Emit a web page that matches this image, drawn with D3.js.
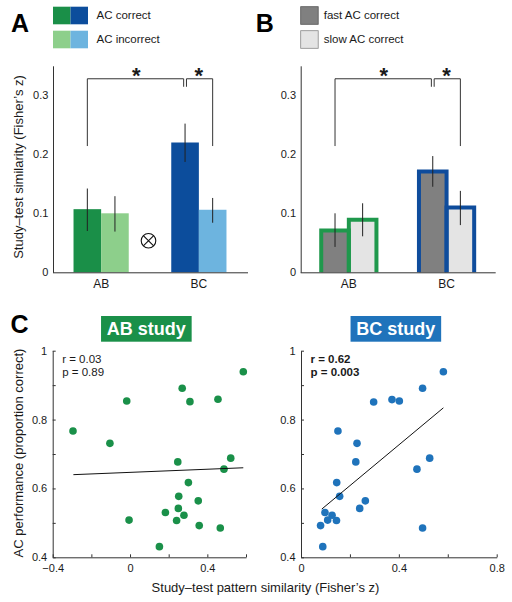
<!DOCTYPE html>
<html><head><meta charset="utf-8">
<script src="https://cdn.jsdelivr.net/npm/d3@7"></script>
<style>
body{margin:0;background:#fff}
svg{display:block}
text{font-family:"Liberation Sans",Arial,Helvetica,sans-serif;fill:#1a1a1a}
</style>
</head><body>
<svg id="c" width="512" height="602"></svg>
<script>
// ---------------- data ----------------
const categories = ["AB", "BC"];
const barTicks = [0, 0.1, 0.2, 0.3];

const legendA = ["AC correct", "AC incorrect"];
const acCorrect = [0.107, 0.220];
const acIncorrect = [0.100, 0.106];
const acCorrectErr = [[0.070, 0.142], [0.187, 0.252]];
const acIncorrectErr = [[0.069, 0.129], [0.084, 0.126]];

const legendB = ["fast AC correct", "slow AC correct"];
const fastCorrect = [0.071, 0.171];
const slowCorrect = [0.089, 0.110];
const fastCorrectErr = [[0.043, 0.100], [0.145, 0.197]];
const slowCorrectErr = [[0.061, 0.117], [0.080, 0.138]];

const abSimilarity = [0.586, 0.270, -0.017, 0.310, 0.455, -0.295, -0.104, 0.521, 0.247, 0.486, 0.302, 0.252, 0.353, 0.250, 0.183, 0.279, -0.005, 0.241, 0.358, 0.467, 0.152];
const abPerformance = [0.939, 0.891, 0.854, 0.852, 0.859, 0.767, 0.731, 0.688, 0.677, 0.656, 0.617, 0.577, 0.564, 0.542, 0.530, 0.522, 0.508, 0.507, 0.492, 0.485, 0.431];
const bcSimilarity = [0.582, 0.497, 0.297, 0.372, 0.402, 0.151, 0.229, 0.526, 0.224, 0.474, 0.146, 0.158, 0.263, 0.240, 0.098, 0.127, 0.109, 0.145, 0.080, 0.497, 0.089];
const bcPerformance = [0.939, 0.891, 0.851, 0.858, 0.854, 0.767, 0.731, 0.688, 0.677, 0.656, 0.617, 0.577, 0.564, 0.542, 0.530, 0.522, 0.508, 0.507, 0.492, 0.485, 0.431];

const abFitX = [-0.293, 0.586], abFitY = [0.640, 0.660];
const bcFitX = [0.085, 0.582], bcFitY = [0.540, 0.834];
const abStats = ["r = 0.03", "p = 0.89"];
const bcStats = ["r = 0.62", "p = 0.003"];

const perfTicks = [0.4, 0.5, 0.6, 0.7, 0.8, 0.9, 1];
const perfLabels = [0.4, 0.6, 0.8, 1];
const abSimTicks = [-0.4, -0.2, 0, 0.2, 0.4, 0.6];
const abSimLabels = [-0.4, 0, 0.4];
const bcSimTicks = [0, 0.2, 0.4, 0.6, 0.8];
const bcSimLabels = [0, 0.4, 0.8];

// ---------------- styles ----------------
const C = {
  greenDark: "#1a8f48", greenLight: "#8dcf8b",
  blueDark: "#0c4d9c", blueLight: "#6db4df",
  gray: "#808080", grayLight: "#e4e4e4",
  outlineGreen: "#1f984c", outlineBlue: "#0e4c9c",
  dotGreen: "#1a9049", dotBlue: "#1f73bb",
  axis: "#333"
};
const FONT = '"Liberation Sans",Arial,Helvetica,sans-serif';
const svg = d3.select("#c");
const fmtNum = d => String(+d.toFixed(1)).replace("-", "\u2212");
const has = (arr, d) => arr.some(v => Math.abs(v - d) < 1e-9);

function styleAxis(g, size) {
  g.attr("font-family", FONT).attr("font-size", size);
  g.selectAll("path.domain").attr("stroke", C.axis);
  g.selectAll(".tick line").attr("stroke", C.axis);
  g.selectAll(".tick text").attr("fill", "#1a1a1a");
}

// ---------------- bar panels ----------------
function barPanel(opt) {
  const ax = opt.ax;
  const g = svg.append("g");
  const y = d3.scaleLinear().domain([0, 0.35]).range([272.3, 65.8]);
  const x0 = d3.scaleBand().domain(categories).range([ax, ax + 194]).paddingInner(0.435).paddingOuter(0.21);
  const x1 = d3.scaleBand().domain(d3.range(opt.values.length)).range([0, x0.bandwidth()]);
  const cx = (c, si) => x0(c) + x1(si) + x1.bandwidth() / 2;

  // bars
  opt.values.forEach((vals, si) => {
    g.append("g").selectAll("rect").data(categories).join("rect")
      .attr("x", c => x0(c) + x1(si)).attr("width", x1.bandwidth())
      .attr("y", (c, i) => y(vals[i])).attr("height", (c, i) => y(0) - y(vals[i]))
      .attr("fill", (c, i) => opt.fills[si][i]);
  });
  if (opt.outline) {
    opt.values.forEach((vals, si) => {
      g.append("g").selectAll("path").data(categories).join("path")
        .attr("d", (c, i) => {
          const xl = x0(c) + x1(si), xr = xl + x1.bandwidth();
          return `M${xl},${y(0)}V${y(vals[i])}H${xr}V${y(0)}`;
        })
        .attr("fill", "none").attr("stroke", (c, i) => opt.outline[i])
        .attr("stroke-width", 4).attr("stroke-linejoin", "miter");
    });
  }
  // error bars
  opt.errors.forEach((errs, si) => {
    g.append("g").selectAll("line").data(categories).join("line")
      .attr("x1", c => cx(c, si)).attr("x2", c => cx(c, si))
      .attr("y1", (c, i) => y(errs[i][0])).attr("y2", (c, i) => y(errs[i][1]))
      .attr("stroke", "#222").attr("stroke-width", 1);
  });

  // axes
  const ya = g.append("g").attr("transform", `translate(${ax},0)`)
    .call(d3.axisLeft(y).tickValues(barTicks).tickSize(0).tickPadding(4.7)
      .tickFormat(d => d === 0 ? "0" : d3.format(".1f")(d)));
  styleAxis(ya, 11);
  const xa = g.append("g").attr("transform", `translate(0,${y(0)})`)
    .call(d3.axisBottom(x0).tickSize(0).tickPadding(7));
  styleAxis(xa, 12);
  xa.select("path.domain").attr("d", `M${ax},0.5H${ax + 195}`);

  // significance brackets
  const top = y(0.328), bot = y(0.214), midBot = top + 8;
  const L = cx("AB", 0), M = cx("BC", 0), R = cx("BC", 1);
  const br = g.append("g").attr("fill", "none").attr("stroke", C.axis).attr("stroke-width", 1);
  br.append("path").attr("d", `M${L},${bot}V${top}H${M - 1.4}V${midBot}`);
  br.append("path").attr("d", `M${M + 1.4},${midBot}V${top}H${R}V${bot}`);
  g.selectAll("text.star").data([(L + M) / 2, (M + R) / 2]).join("text")
    .attr("class", "star").attr("x", d => d).attr("y", top + 3.8)
    .attr("text-anchor", "middle").attr("font-size", 22).attr("font-weight", "bold").text("*");

  // legend
  const lg = g.append("g");
  opt.legend.forEach((lab, i) => {
    const yy = 6.7 + i * 24;
    opt.legendFills[i].forEach((f, j) => {
      lg.append("rect").attr("x", ax + j * 17.5).attr("y", yy)
        .attr("width", 17.5).attr("height", 17.6).attr("fill", f)
        .attr("stroke", opt.legendStroke ? opt.legendStroke[i] : "none").attr("stroke-width", 0.8);
    });
    lg.append("text").attr("x", ax + opt.legendFills[i].length * 17.5 + opt.legendGap)
      .attr("y", yy + 12.6).attr("font-size", 11.5).text(lab);
  });

  return { g, x0, y };
}

const A = barPanel({
  ax: 53,
  values: [acCorrect, acIncorrect],
  errors: [acCorrectErr, acIncorrectErr],
  fills: [[C.greenDark, C.blueDark], [C.greenLight, C.blueLight]],
  legend: legendA,
  legendFills: [[C.greenDark, C.blueDark], [C.greenLight, C.blueLight]],
  legendGap: 8.5
});
// interaction symbol (⊗) between groups
{
  const cxo = (A.x0("AB") + A.x0.bandwidth() + A.x0("BC")) / 2 - 1.5, cyo = A.y(0.0535), r = 7.3, k = r * 0.7071;
  const og = A.g.append("g").attr("fill", "none").attr("stroke", "#111").attr("stroke-width", 1.1);
  og.append("circle").attr("cx", cxo).attr("cy", cyo).attr("r", r);
  og.append("path").attr("d", `M${cxo - k},${cyo - k}L${cxo + k},${cyo + k}M${cxo + k},${cyo - k}L${cxo - k},${cyo + k}`);
}

barPanel({
  ax: 300.7,
  values: [fastCorrect, slowCorrect],
  errors: [fastCorrectErr, slowCorrectErr],
  fills: [[C.gray, C.gray], [C.grayLight, C.grayLight]],
  outline: [C.outlineGreen, C.outlineBlue],
  legend: legendB,
  legendFills: [[C.gray], [C.grayLight]],
  legendStroke: ["#555", "#888"],
  legendGap: 5.5
});

// y label for bar panels
svg.append("text").attr("transform", "translate(22.5,167) rotate(-90)")
  .attr("text-anchor", "middle").attr("font-size", 13).text("Study\u2013test similarity (Fisher\u2019s z)");

// ---------------- scatter panels ----------------
function scatterPanel(opt) {
  const g = svg.append("g");
  const y = d3.scaleLinear().domain([0.4, 1]).range([557.3, 350.7]);
  const x = d3.scaleLinear().domain(opt.xDomain).range(opt.xRange);
  const ya = g.append("g").attr("transform", `translate(${opt.xRange[0]},0)`)
    .call(d3.axisLeft(y).tickValues(perfTicks).tickSizeInner(-3).tickSizeOuter(0).tickPadding(5.5)
      .tickFormat(d => has(perfLabels, d) ? fmtNum(d) : ""));
  styleAxis(ya, 11);
  const xa = g.append("g").attr("transform", `translate(0,${y(0.4)})`)
    .call(d3.axisBottom(x).tickValues(opt.xTicks).tickSizeInner(-3).tickSizeOuter(0).tickPadding(7.2)
      .tickFormat(d => has(opt.xLabels, d) ? fmtNum(d) : ""));
  styleAxis(xa, 11);

  g.append("g").selectAll("circle").data(opt.xs).join("circle")
    .attr("cx", d => x(d)).attr("cy", (d, i) => y(opt.ys[i])).attr("r", 3.8).attr("fill", opt.color);

  g.append("line").attr("x1", x(opt.fitX[0])).attr("y1", y(opt.fitY[0]))
    .attr("x2", x(opt.fitX[1])).attr("y2", y(opt.fitY[1]))
    .attr("stroke", "#111").attr("stroke-width", 1);

  g.selectAll("text.stat").data(opt.stats).join("text").attr("class", "stat")
    .attr("x", opt.xRange[0] + 9.5).attr("y", (d, i) => 363.3 + i * 12.7)
    .attr("font-size", 11.5).attr("font-weight", opt.bold ? "bold" : "normal").text(d => d);

  // title box
  const tx = (opt.xRange[0] + opt.xRange[1]) / 2 - 3;
  const tg = g.append("g");
  const box = tg.append("rect");
  const t = tg.append("text").attr("x", tx).attr("y", 335).attr("text-anchor", "middle")
    .attr("font-size", 18).attr("font-weight", "bold").style("fill", "#fff").text(opt.title);
  const bb = t.node().getBBox();
  box.attr("x", bb.x - 5.8).attr("y", 316)
    .attr("width", bb.width + 11.6).attr("height", 25.7).attr("fill", opt.color);
}

scatterPanel({
  xDomain: [-0.4, 0.6], xRange: [52.7, 246], xTicks: abSimTicks, xLabels: abSimLabels,
  xs: abSimilarity, ys: abPerformance, color: C.dotGreen,
  fitX: abFitX, fitY: abFitY, stats: abStats, bold: false, title: "AB study"
});
scatterPanel({
  xDomain: [0, 0.8], xRange: [301, 496.7], xTicks: bcSimTicks, xLabels: bcSimLabels,
  xs: bcSimilarity, ys: bcPerformance, color: C.dotBlue,
  fitX: bcFitX, fitY: bcFitY, stats: bcStats, bold: true, title: "BC study"
});

svg.append("text").attr("transform", "translate(22.5,453) rotate(-90)")
  .attr("text-anchor", "middle").attr("font-size", 13).text("AC performance (proportion correct)");
svg.append("text").attr("x", 265.5).attr("y", 591.7).attr("text-anchor", "middle")
  .attr("font-size", 13).text("Study\u2013test pattern similarity (Fisher\u2019s z)");

// panel letters
svg.selectAll("text.letter").data([["A", 11, 32.3], ["B", 255.8, 32.3], ["C", 10.5, 333.2]]).join("text")
  .attr("class", "letter").attr("x", d => d[1]).attr("y", d => d[2])
  .attr("font-size", 25).attr("font-weight", "bold").style("fill", "#000").text(d => d[0]);
</script>
</body></html>
